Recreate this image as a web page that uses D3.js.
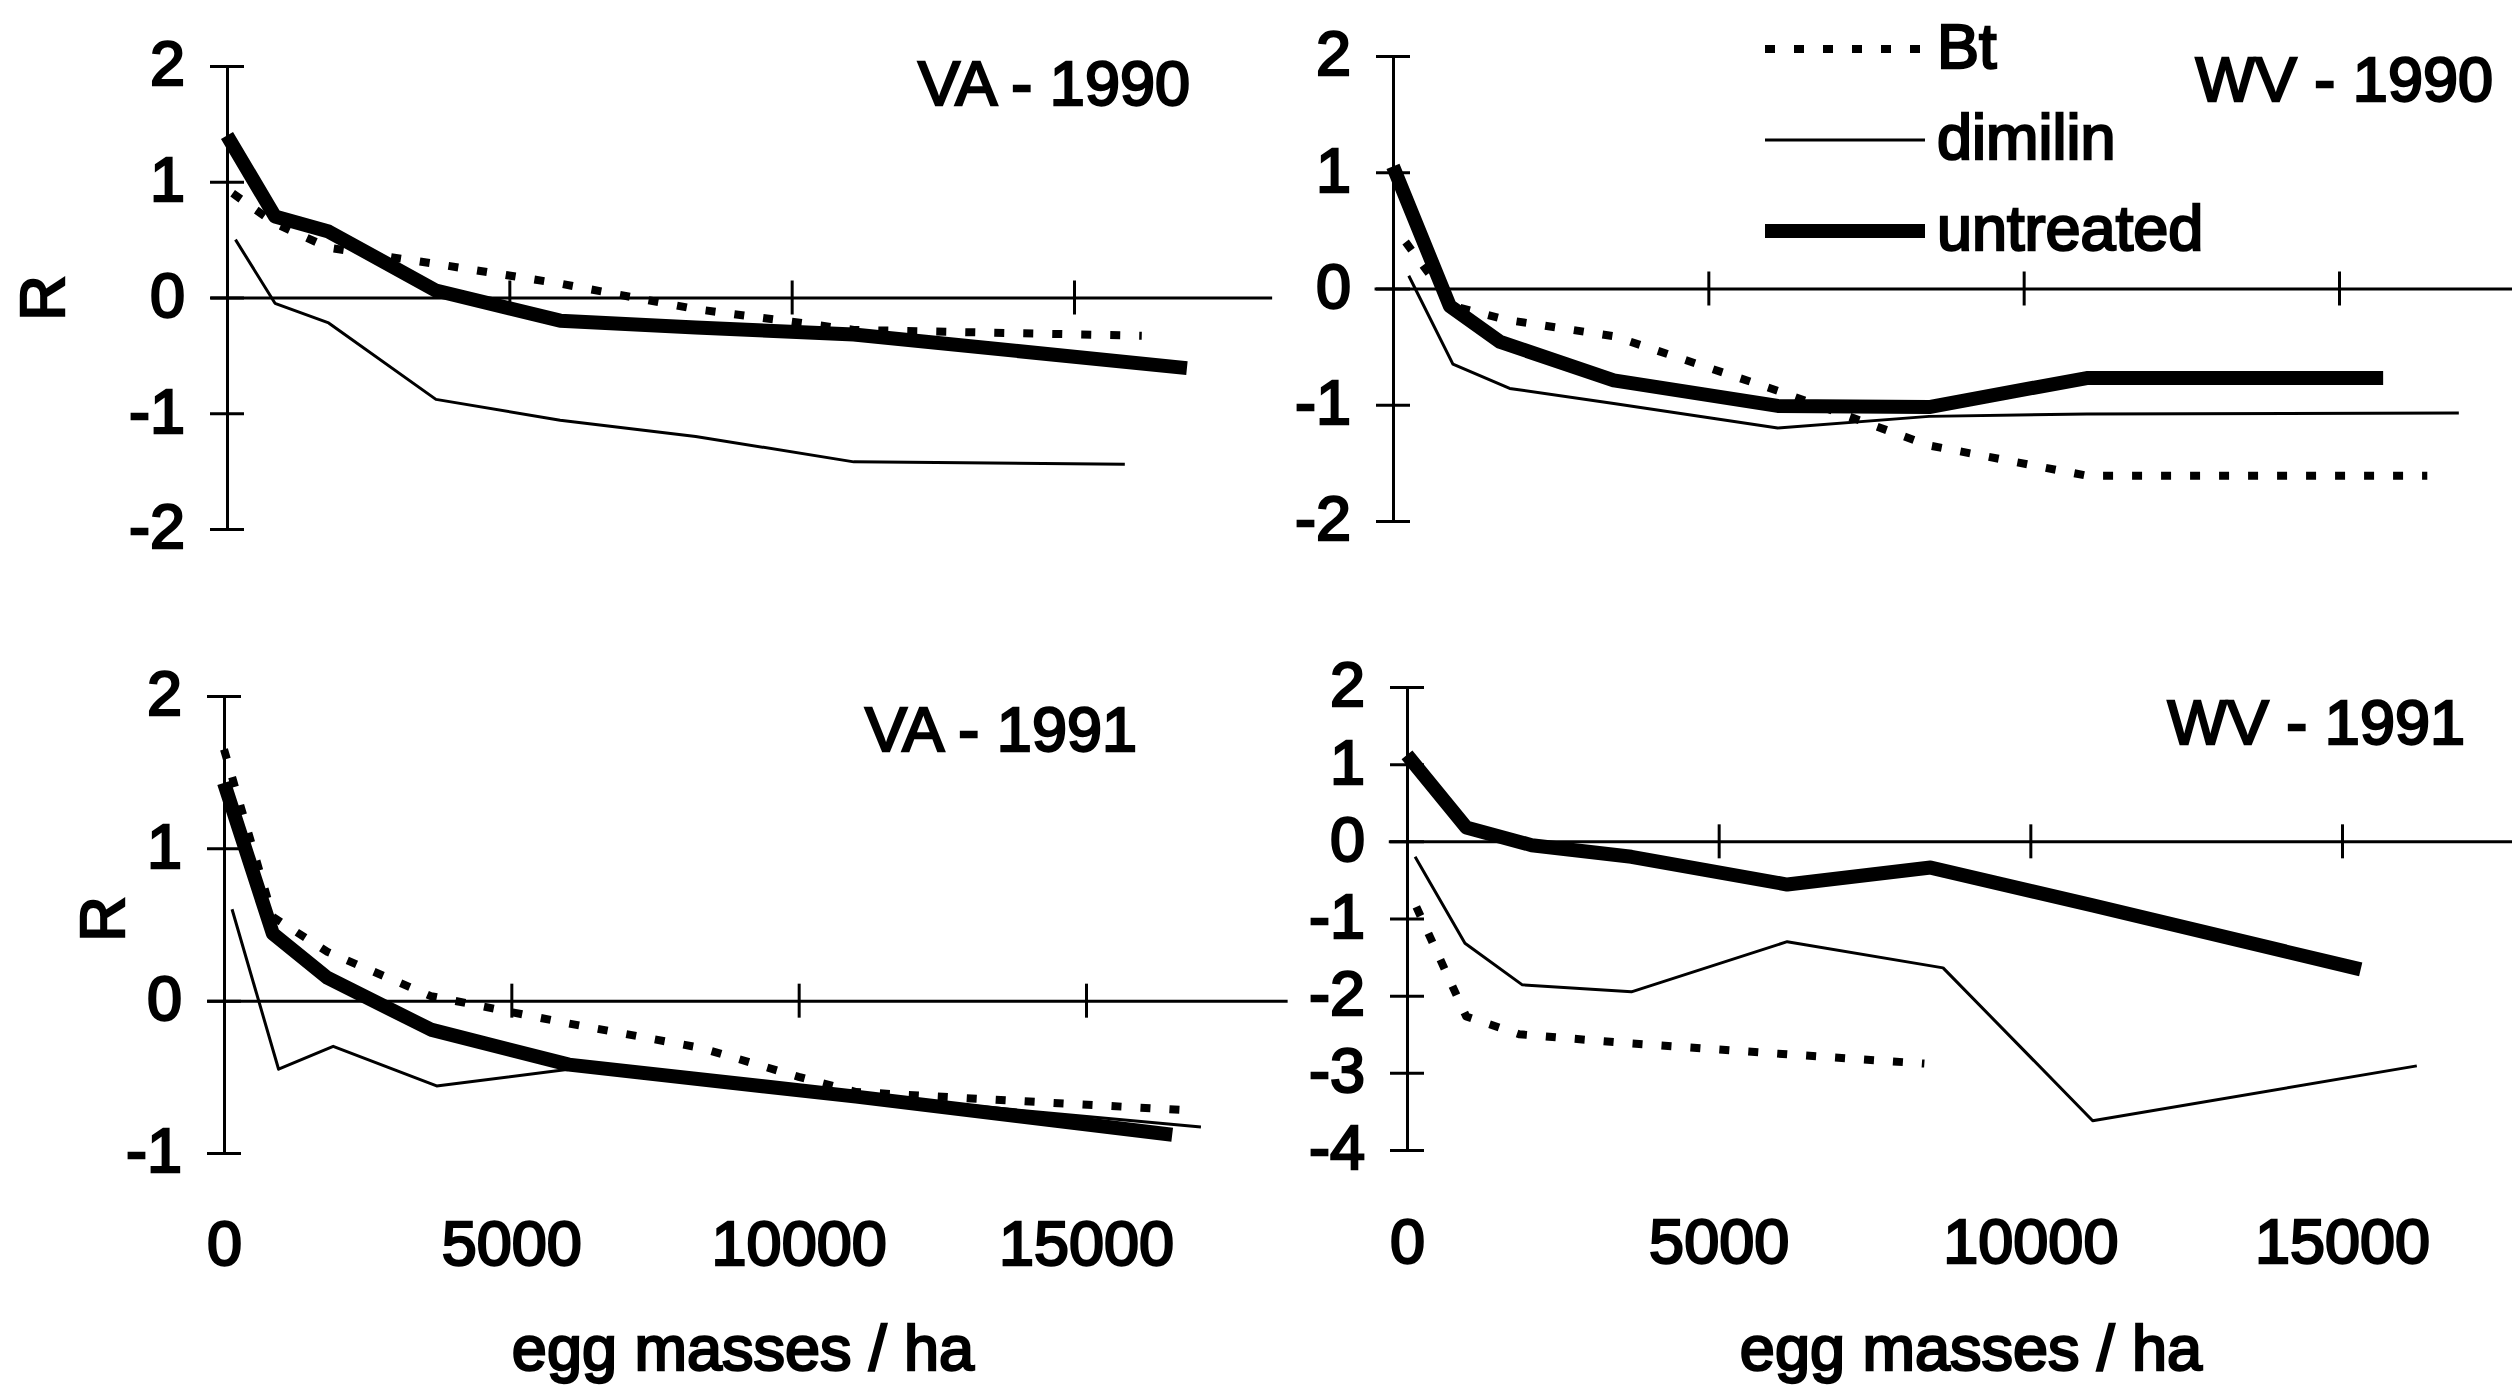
<!DOCTYPE html>
<html>

<head>
    <meta charset="utf-8">
    <script src="https://d3js.org/d3.v7.min.js"></script>
    <style>
        body { margin: 0; background: white; }
    </style>
    <script>
        const width = 2512
        const height = 1388

        const fontFamily = "'Liberation Sans', Arial, sans-serif"
        const fontSize = 63

        // egg masses / ha vs R, one array per series and panel
        const va90Bt = [[100, 0.9], [850, 0.64], [1800, 0.43], [3700, 0.29], [5900, 0.12], [8300, -0.1], [11100, -0.28], [16200, -0.33]]
        const va90Dimilin = [[150, 0.5], [850, -0.05], [1800, -0.22], [3700, -0.88], [5900, -1.06], [8300, -1.2], [11100, -1.42], [15900, -1.44]]
        const va90Untreated = [[0, 1.4], [850, 0.7], [1800, 0.57], [3700, 0.06], [5900, -0.2], [8300, -0.26], [11100, -0.32], [17000, -0.61]]

        const wv90Bt = [[200, 0.4], [950, -0.15], [1800, -0.27], [3500, -0.41], [6100, -0.88], [8500, -1.35], [11000, -1.61], [16400, -1.61]]
        const wv90Dimilin = [[250, 0.11], [950, -0.65], [1850, -0.86], [3500, -0.99], [6100, -1.2], [8500, -1.1], [11000, -1.08], [16900, -1.07]]
        const wv90Untreated = [[0, 1.05], [900, -0.15], [1700, -0.46], [3500, -0.79], [6100, -1.01], [8500, -1.02], [11000, -0.77], [15700, -0.77]]

        const va91Bt = [[0, 1.65], [850, 0.55], [1800, 0.32], [3600, 0.03], [6000, -0.15], [8300, -0.31], [10000, -0.5], [11000, -0.6], [16800, -0.72]]
        const va91Dimilin = [[140, 0.6], [950, -0.45], [1900, -0.3], [3700, -0.56], [6000, -0.45], [11000, -0.62], [17000, -0.83]]
        const va91Untreated = [[0, 1.43], [850, 0.44], [1800, 0.15], [3600, -0.19], [6000, -0.42], [11000, -0.63], [16500, -0.88]]

        const wv91Bt = [[150, -0.85], [950, -2.27], [1800, -2.5], [3600, -2.62], [6100, -2.76], [8300, -2.88]]
        const wv91Dimilin = [[130, -0.2], [930, -1.32], [1850, -1.86], [3600, -1.95], [6100, -1.3], [8600, -1.64], [11000, -3.62], [16200, -2.91]]
        const wv91Untreated = [[0, 1.12], [950, 0.18], [2000, -0.05], [3600, -0.2], [6100, -0.56], [8400, -0.34], [11000, -0.83], [15300, -1.66]]

        const seriesNames = ["Bt", "dimilin", "untreated"]
        const panelTitles = ["VA - 1990", "WV - 1990", "VA - 1991", "WV - 1991"]
        const xTickValues = [5000, 10000, 15000]
        const xLabelValues = [0, 5000, 10000, 15000]
        const yTicksVA90 = [-2, -1, 0, 1, 2]
        const yTicksWV90 = [-2, -1, 0, 1, 2]
        const yTicksVA91 = [-1, 0, 1, 2]
        const yTicksWV91 = [-4, -3, -2, -1, 0, 1, 2]
        const xAxisLabel = "egg masses / ha"
        const yAxisLabel = "R"

        // line looks per series
        const styles = {
            "Bt": { width: 8, dash: "10 19" },
            "dimilin": { width: 3, dash: null },
            "untreated": { width: 14, dash: null }
        }

        // placement of the four panels (pixels)
        const panels = [
            { title: panelTitles[0], series: [va90Bt, va90Dimilin, va90Untreated], yTicks: yTicksVA90,
              x0: 227, x15: 1074, yTop: 66, yBottom: 529, titleX: 1190, titleY: 105, rLabel: [42, 298], xLabels: false },
            { title: panelTitles[1], series: [wv90Bt, wv90Dimilin, wv90Untreated], yTicks: yTicksWV90,
              x0: 1393, x15: 2339, yTop: 56, yBottom: 521, titleX: 2493, titleY: 101, rLabel: null, xLabels: false },
            { title: panelTitles[2], series: [va91Bt, va91Dimilin, va91Untreated], yTicks: yTicksVA91,
              x0: 224, x15: 1086, yTop: 696, yBottom: 1153, titleX: 1137, titleY: 751, rLabel: [102, 919], xLabels: true, xLabelY: 1220, xTitleX: 743 },
            { title: panelTitles[3], series: [wv91Bt, wv91Dimilin, wv91Untreated], yTicks: yTicksWV91,
              x0: 1407, x15: 2342, yTop: 687, yBottom: 1150, titleX: 2465, titleY: 744, rLabel: null, xLabels: true, xLabelY: 1218, xTitleX: 1971 }
        ]

        const tickHalf = 17
        const plainNumber = d => String(d) // keeps the ascii hyphen like the original

        function styleText(sel) {
            sel.style("font-family", fontFamily)
                .style("font-size", fontSize + "px")
                .attr("fill", "black")
                .attr("stroke", "black")
                .attr("stroke-width", 2.4)
        }

        function drawPanel(svg, p) {
            const g = svg.append("g")
            const yMin = d3.min(p.yTicks), yMax = d3.max(p.yTicks)
            const x = d3.scaleLinear().domain([0, 15000]).range([p.x0, p.x15])
            const y = d3.scaleLinear().domain([yMin, yMax]).range([p.yBottom, p.yTop])

            // zero line with crossing ticks
            const xAxisScale = x.copy().domain([-300, 18500]).range([x(-300), x(18500)])
            const xAxis = g.append("g")
                .attr("transform", `translate(0,${y(0)})`)
                .call(d3.axisBottom(xAxisScale).tickValues(xTickValues).tickSize(tickHalf).tickSizeOuter(0).tickFormat(""))
            xAxis.selectAll(".tick line").attr("y1", -tickHalf)
            xAxis.selectAll("line, path").attr("stroke", "black").attr("stroke-width", 3)

            // vertical axis with crossing ticks
            const yAxis = g.append("g")
                .attr("transform", `translate(${p.x0},0)`)
                .call(d3.axisLeft(y).tickValues(p.yTicks).tickSize(tickHalf).tickSizeOuter(0).tickPadding(25).tickFormat(plainNumber))
            yAxis.selectAll(".tick line").attr("x1", tickHalf)
            yAxis.selectAll("line, path").attr("stroke", "black").attr("stroke-width", 3)
            yAxis.selectAll("text").call(styleText).attr("dy", "0.3em")

            // series
            const line = d3.line().x(d => x(d[0])).y(d => y(d[1]))
            p.series.forEach((data, i) => {
                const st = styles[seriesNames[i]]
                g.append("path")
                    .datum(data)
                    .attr("d", line)
                    .attr("fill", "none")
                    .attr("stroke", "black")
                    .attr("stroke-width", st.width)
                    .attr("stroke-linejoin", "round")
                    .attr("stroke-dasharray", st.dash)
            })

            // panel title
            g.append("text")
                .attr("x", p.titleX)
                .attr("y", p.titleY)
                .attr("text-anchor", "end")
                .text(p.title)
                .call(styleText)

            if (p.rLabel) {
                g.append("text")
                    .attr("transform", `translate(${p.rLabel[0]},${p.rLabel[1]}) rotate(-90)`)
                    .attr("text-anchor", "middle")
                    .attr("dominant-baseline", "central")
                    .text(yAxisLabel)
                    .call(styleText)
            }

            if (p.xLabels) {
                const labels = g.append("g")
                    .attr("transform", `translate(0,${p.xLabelY})`)
                    .call(d3.axisBottom(x).tickValues(xLabelValues).tickSize(0).tickPadding(0).tickFormat(plainNumber))
                labels.select(".domain").remove()
                labels.selectAll("text").call(styleText)

                g.append("text")
                    .attr("x", p.xTitleX)
                    .attr("y", 1370)
                    .attr("text-anchor", "middle")
                    .text(xAxisLabel)
                    .call(styleText)
            }
        }

        function drawLegend(svg) {
            const legend = svg.append("g").attr("transform", "translate(1765,49)")
            const rows = legend.selectAll("g")
                .data(seriesNames)
                .enter()
                .append("g")
                .attr("transform", (d, i) => `translate(0,${i * 91})`)
            rows.append("line")
                .attr("x1", 0).attr("x2", 160)
                .attr("y1", 0).attr("y2", 0)
                .attr("stroke", "black")
                .attr("stroke-width", d => styles[d].width)
                .attr("stroke-dasharray", d => styles[d].dash)
            rows.append("text")
                .attr("x", 172)
                .attr("y", 19)
                .text(d => d)
                .call(styleText)
        }

        function initialize() {
            const svg = d3.select("body").append("svg")
                .attr("width", width)
                .attr("height", height)
                .style("display", "block")
            svg.append("rect").attr("width", width).attr("height", height).attr("fill", "white")
            panels.forEach(p => drawPanel(svg, p))
            drawLegend(svg)
        }
    </script>
</head>

<body onload="initialize()">
</body>

</html>
